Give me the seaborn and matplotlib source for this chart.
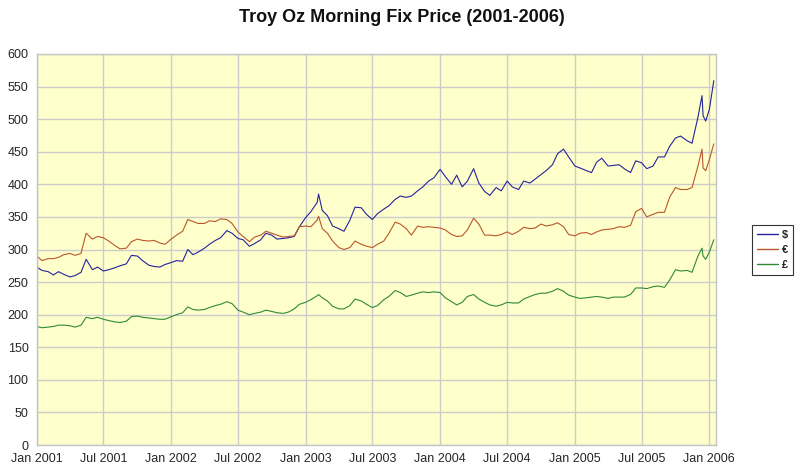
import pandas as pd
import matplotlib
matplotlib.use("Agg")
import matplotlib.pyplot as plt
import seaborn as sns

# datas: dia 1 e dia 15 de cada mês (jan/2001 - dez/2005)
fix_dates = pd.date_range("2001-01-01", "2005-12-15", freq="SMS")

# preço da onça troy em dólar
usd = [
    273, 268, 266, 261, 266, 262, 258, 260, 265, 285, 269, 273, 267, 269, 272, 275, 278, 291, 290, 283, 276, 274, 273, 277,  # 2001
    280, 283, 282, 300, 292, 296, 302, 308, 314, 318, 329, 325, 317, 315, 305, 309, 315, 325, 322, 316, 317, 318, 320, 335,  # 2002
    349, 358, 372, 360, 352, 336, 332, 328, 345, 365, 364, 354, 346, 355, 362, 367, 377, 382, 380, 382, 390, 396, 405, 410,  # 2003
    423, 412, 400, 414, 396, 405, 424, 402, 389, 383, 395, 390, 405, 396, 392, 405, 402, 408, 415, 421, 430, 447, 454, 442,  # 2004
    428, 425, 421, 418, 434, 440, 428, 429, 430, 424, 418, 436, 433, 424, 428, 442, 442, 458, 471, 474, 467, 463, 503, 505,  # 2005
]
# preço em euro
eur = [
    290, 283, 286, 286, 288, 292, 294, 291, 294, 325, 316, 320, 318, 313, 306, 301, 302, 312, 316, 314, 313, 314, 310, 308,
    316, 322, 328, 346, 343, 340, 340, 344, 343, 347, 346, 340, 327, 320, 312, 319, 322, 328, 325, 322, 319, 320, 321, 335,
    336, 335, 345, 332, 325, 313, 303, 300, 303, 313, 308, 305, 303, 308, 313, 325, 342, 339, 332, 322, 336, 334, 335, 334,
    333, 330, 323, 320, 321, 330, 348, 339, 322, 322, 321, 323, 327, 323, 328, 334, 332, 333, 339, 336, 338, 341, 335, 323,
    321, 325, 326, 323, 327, 330, 331, 332, 335, 334, 337, 358, 363, 350, 354, 357, 357, 380, 395, 392, 392, 395, 428, 425,
]
# preço em libra
gbp = [
    182, 180, 181, 182, 184, 184, 183, 181, 184, 196, 194, 196, 193, 191, 189, 188, 190, 197, 198, 196, 195, 194, 193, 193,
    197, 200, 203, 212, 208, 207, 208, 211, 214, 216, 220, 217, 207, 204, 200, 202, 204, 207, 205, 203, 202, 204, 209, 216,
    219, 223, 229, 226, 221, 213, 209, 209, 214, 224, 221, 216, 211, 214, 223, 228, 237, 234, 228, 230, 233, 235, 234, 235,
    234, 226, 220, 215, 219, 228, 231, 224, 219, 215, 213, 215, 219, 218, 218, 224, 228, 231, 233, 233, 236, 240, 236, 230,
    227, 225, 226, 227, 228, 227, 225, 227, 227, 227, 231, 241, 241, 240, 243, 244, 242, 253, 269, 267, 268, 265, 290, 290,
]

# pontos extras (picos e final da série)
extra_dates = ["2003-02-05", "2005-12-12", "2005-12-22", "2006-01-01", "2006-01-13"]
extra_usd = [385, 536, 497, 515, 559]
extra_eur = [351, 454, 421, 438, 462]
extra_gbp = [231, 302, 285, 296, 315]

moedas = ["$", "€", "£"]
cores = ["#24249a", "#b9572a", "#2f8a35"]

ticks_x = pd.date_range("2001-01-01", "2006-01-01", freq="6MS")
ticks_x_labels = [d.strftime("%b %Y") for d in ticks_x]


def montar_dados():
    """Junta as séries num DataFrame longo para o seaborn."""
    df = pd.DataFrame({
        "data": list(fix_dates) + list(pd.to_datetime(extra_dates)),
        "$": usd + extra_usd,
        "€": eur + extra_eur,
        "£": gbp + extra_gbp,
    })
    df = df.sort_values("data")
    return df.melt(id_vars="data", var_name="moeda", value_name="preco")


def main():
    dados = montar_dados()

    sns.set_style("whitegrid", {"axes.facecolor": "#ffffcc", "grid.color": "#cccccc",
                                "axes.edgecolor": "#c4c4c4"})
    plt.rcParams["font.family"] = ["Liberation Sans", "DejaVu Sans"]

    fig = plt.figure(figsize=(8, 4.73), dpi=100)
    ax = fig.add_axes([0.046, 0.059, 0.849, 0.827])

    sns.lineplot(data=dados, x="data", y="preco", hue="moeda", hue_order=moedas,
                 palette=cores, linewidth=0.8, ax=ax)

    ax.set_xlim(pd.Timestamp("2001-01-01"), pd.Timestamp("2006-01-19"))
    ax.set_ylim(0, 600)
    ax.set_yticks(range(0, 601, 50))
    ax.set_xticks(ticks_x)
    ax.set_xticklabels(ticks_x_labels)
    ax.tick_params(axis="both", labelsize=9, length=3, color="#999999", pad=3)
    ax.grid(True, color="#cccccc", linewidth=1)
    ax.set_xlabel("")
    ax.set_ylabel("")
    for lado in ax.spines.values():
        lado.set_color("#c4c4c4")
        lado.set_linewidth(1)

    fig.text(0.502, 0.963, "Troy Oz Morning Fix Price (2001-2006)", ha="center", va="center",
             fontsize=13, fontweight="bold", color="#111111")

    leg = ax.legend(loc="center left", bbox_to_anchor=(1.053, 0.5), frameon=True,
                    fancybox=False, handlelength=1.9, fontsize=8, borderpad=0.45,
                    labelspacing=0.45, handletextpad=0.35, borderaxespad=0)
    leg.get_frame().set_edgecolor("#333333")
    leg.get_frame().set_facecolor("white")
    leg.get_frame().set_alpha(1)
    leg.get_frame().set_linewidth(0.8)
    for t in leg.get_texts():
        t.set_fontweight("bold")
    for linha in leg.get_lines():
        linha.set_linewidth(1.0)

    plt.savefig("out.png", dpi=100)
    plt.close()


if __name__ == "__main__":
    main()
